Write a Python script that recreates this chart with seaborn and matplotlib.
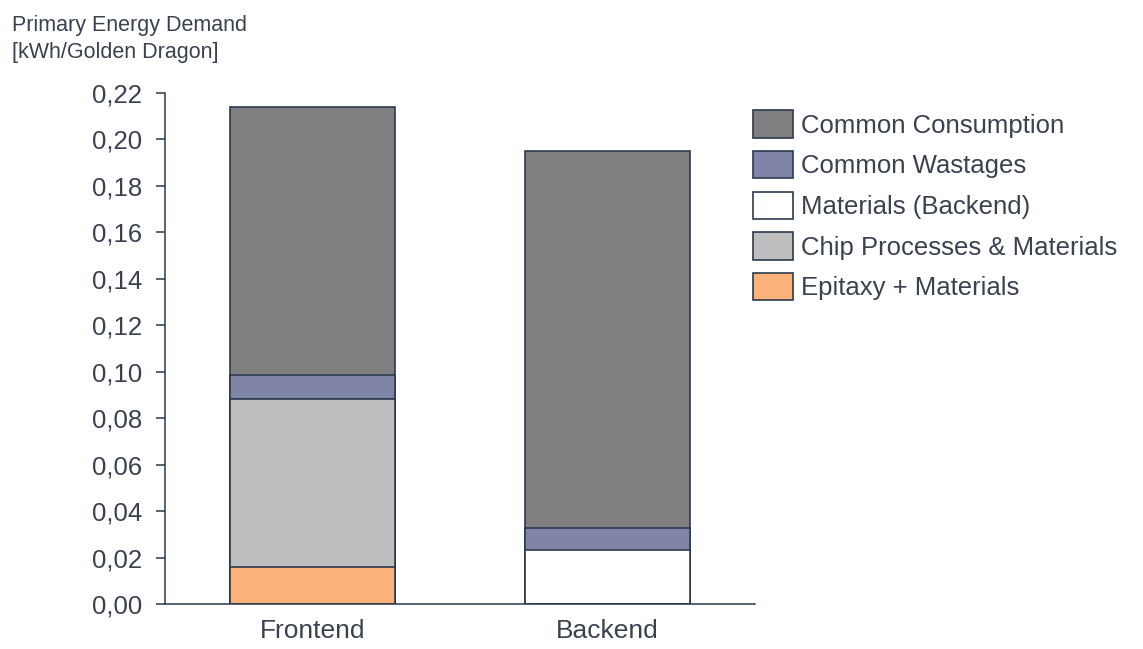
import matplotlib
matplotlib.use("Agg")
import matplotlib.pyplot as plt
import matplotlib.patches as mpatches
import numpy as np
import seaborn as sns

# Data: primary energy demand per component [kWh/Golden Dragon]
stages = ["Frontend", "Backend"]
layer_names = ["Epitaxy + Materials", "Chip Processes & Materials",
               "Materials (Backend)", "Common Wastages", "Common Consumption"]
epitaxy = [0.0159, 0.0]
chip_processes = [0.0722, 0.0]
materials_backend = [0.0, 0.0232]
common_wastages = [0.0105, 0.0097]
common_consumption = [0.1154, 0.1621]
y_ticks = [0.00, 0.02, 0.04, 0.06, 0.08, 0.10, 0.12, 0.14, 0.16, 0.18, 0.20, 0.22]
y_tick_labels = ["0,00", "0,02", "0,04", "0,06", "0,08", "0,10",
                 "0,12", "0,14", "0,16", "0,18", "0,20", "0,22"]

layer_colors = ["#fbb27a", "#bebebe", "#ffffff", "#8084a6", "#7f7f7f"]
edge_col = "#2c3a4e"
text_col = "#3a4250"

sns.set_theme(style="white")
plt.rcParams["font.family"] = ["Liberation Sans", "DejaVu Sans"]

fig = plt.figure(figsize=(11.43, 6.49), dpi=100)
ax = fig.add_axes([165 / 1143, 1 - 604 / 649, (755 - 165) / 1143, (604 - 93) / 649])

layers = [epitaxy, chip_processes, materials_backend, common_wastages, common_consumption]
cum = np.cumsum(np.array(layers), axis=0)

# Stacked bars: draw cumulative totals from the top layer down
for i in range(len(layers) - 1, -1, -1):
    sns.barplot(x=stages, y=cum[i], color=layer_colors[i], saturation=1,
                width=0.56, edgecolor=edge_col, linewidth=1.2, ax=ax)

ax.set_xlim(-0.5, 1.5)
ax.set_ylim(0, 0.22)
ax.set_yticks(y_ticks)
ax.set_yticklabels(y_tick_labels)
ax.tick_params(axis="y", which="both", left=True, length=6.5, width=1.1,
               color=edge_col, labelsize=18.5, labelcolor=text_col, pad=10)
ax.tick_params(axis="x", length=0, labelsize=19, labelcolor=text_col, pad=11)
ax.set_xlabel("")
ax.set_ylabel("")
for side in ["top", "right"]:
    ax.spines[side].set_visible(False)
for side in ["left", "bottom"]:
    ax.spines[side].set_color(edge_col)
    ax.spines[side].set_linewidth(1.1)

handles = [mpatches.Patch(facecolor=layer_colors[i], edgecolor=edge_col,
                          linewidth=1.2, label=layer_names[i])
           for i in range(len(layers) - 1, -1, -1)]
fig.legend(handles=handles, loc="upper left", bbox_to_anchor=(743 / 1143, 1 - 100 / 649),
           frameon=False, fontsize=18.5, labelcolor=text_col, handlelength=1.55,
           handleheight=1.26, labelspacing=0.52, handletextpad=0.3, borderaxespad=0)

fig.text(12 / 1143, 1 - 15 / 649, "Primary Energy Demand\n[kWh/Golden Dragon]",
         ha="left", va="top", fontsize=15.5, color=text_col, linespacing=1.35)

fig.savefig("out.png", dpi=100, facecolor="white")
